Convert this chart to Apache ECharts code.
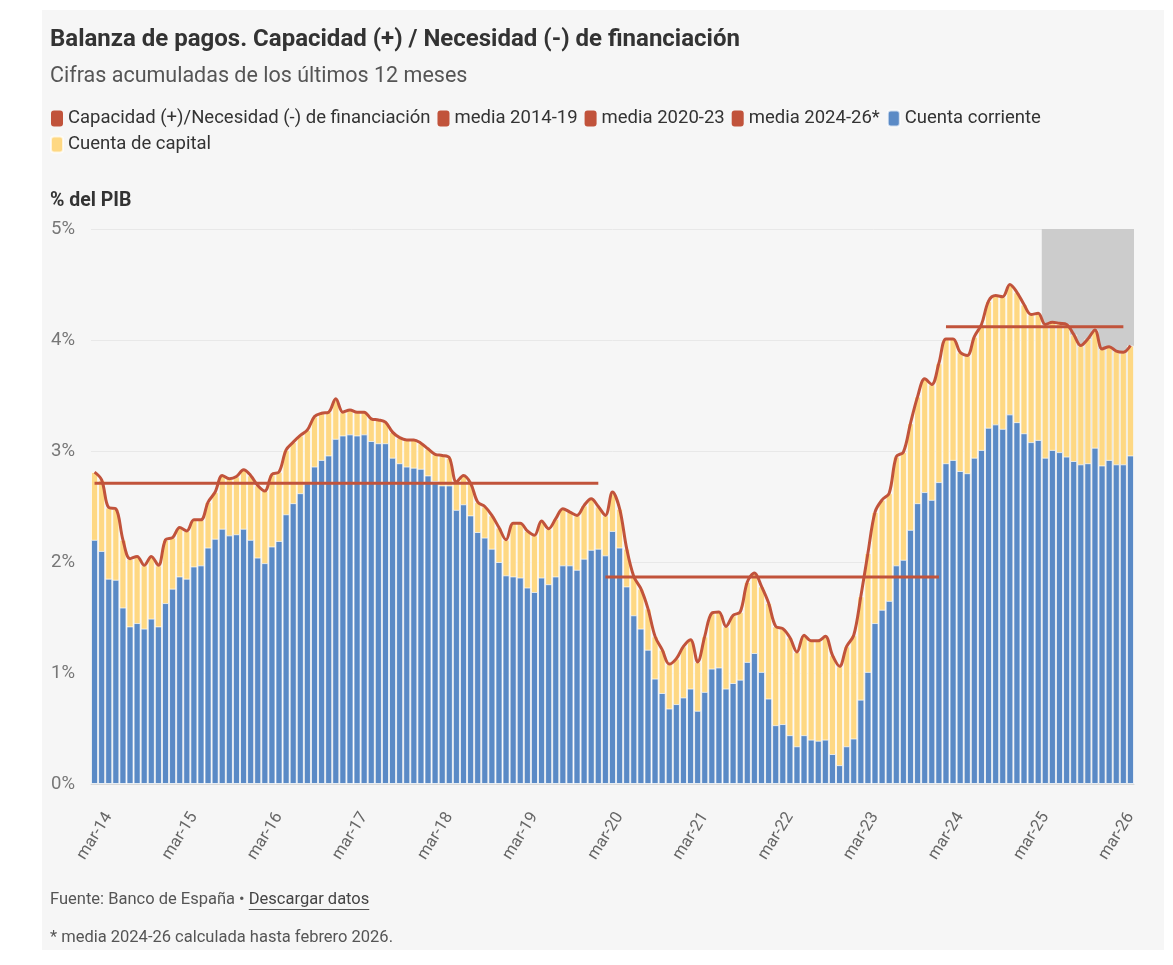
<!DOCTYPE html>
<html lang="es">
<head>
<meta charset="utf-8">
<title>Balanza de pagos</title>
<script src="https://cdn.jsdelivr.net/npm/echarts@6/dist/echarts.min.js"></script>
<style>
  html, body { margin: 0; padding: 0; background: #fff; }
  #chart { width: 1173px; height: 965px; }
</style>
</head>
<body>
<div id="chart"></div>
<script>
const FONT = 'Roboto, "Noto Sans", sans-serif'

// meses (ene-14 ... mar-26)
const meses = ['ene', 'feb', 'mar', 'abr', 'may', 'jun', 'jul', 'ago', 'sep', 'oct', 'nov', 'dic']
const categorias = []
for (let a = 14; a <= 26; a++) {
  for (let m = 0; m < 12; m++) {
    if (a === 26 && m > 2) break
    categorias.push(meses[m] + '-' + a)
  }
}

const etiquetas = ['mar-14', 'mar-15', 'mar-16', 'mar-17', 'mar-18', 'mar-19', 'mar-20',
  'mar-21', 'mar-22', 'mar-23', 'mar-24', 'mar-25', 'mar-26']

// Cuenta corriente, % del PIB
const corriente = [
  2.20, 2.10, 1.85, 1.84, 1.59, 1.42, 1.45, 1.40, 1.49, 1.42, 1.63, 1.76,
  1.87, 1.85, 1.96, 1.97, 2.13, 2.21, 2.30, 2.24, 2.25, 2.30, 2.20, 2.04,
  1.99, 2.14, 2.19, 2.43, 2.53, 2.62, 2.71, 2.86, 2.92, 2.96, 3.11, 3.14,
  3.15, 3.14, 3.15, 3.09, 3.07, 3.07, 2.94, 2.89, 2.86, 2.85, 2.84, 2.78,
  2.73, 2.69, 2.69, 2.47, 2.52, 2.42, 2.27, 2.22, 2.12, 2.00, 1.88, 1.87,
  1.86, 1.77, 1.73, 1.86, 1.80, 1.87, 1.97, 1.97, 1.93, 2.03, 2.11, 2.12,
  2.06, 2.28, 2.13, 1.78, 1.52, 1.40, 1.21, 0.95, 0.82, 0.68, 0.72, 0.78,
  0.86, 0.66, 0.83, 1.04, 1.05, 0.86, 0.91, 0.94, 1.10, 1.18, 1.01, 0.77,
  0.53, 0.54, 0.44, 0.34, 0.44, 0.40, 0.39, 0.40, 0.27, 0.17, 0.34, 0.41,
  0.76, 1.01, 1.45, 1.57, 1.65, 1.97, 2.02, 2.29, 2.53, 2.63, 2.56, 2.72,
  2.89, 2.92, 2.82, 2.80, 2.94, 3.01, 3.21, 3.24, 3.20, 3.33, 3.26, 3.16,
  3.08, 3.10, 2.94, 3.01, 2.99, 2.95, 2.91, 2.88, 2.89, 3.03, 2.87, 2.92,
  2.88, 2.88, 2.96
]

// Capacidad (+)/Necesidad (-) de financiación = corriente + capital, % del PIB
const capacidad = [
  2.81, 2.74, 2.49, 2.48, 2.20, 2.03, 2.05, 1.97, 2.05, 1.97, 2.20, 2.22,
  2.31, 2.28, 2.38, 2.38, 2.54, 2.63, 2.78, 2.75, 2.77, 2.83, 2.78, 2.69,
  2.64, 2.79, 2.81, 3.01, 3.08, 3.14, 3.19, 3.31, 3.34, 3.35, 3.47, 3.35,
  3.37, 3.35, 3.35, 3.29, 3.28, 3.26, 3.17, 3.12, 3.10, 3.10, 3.07, 3.02,
  2.97, 2.96, 2.94, 2.72, 2.78, 2.71, 2.54, 2.50, 2.42, 2.31, 2.20, 2.35,
  2.35, 2.28, 2.24, 2.37, 2.30, 2.39, 2.48, 2.45, 2.42, 2.51, 2.57, 2.50,
  2.42, 2.63, 2.48, 2.12, 1.87, 1.76, 1.58, 1.33, 1.21, 1.08, 1.13, 1.24,
  1.30, 1.10, 1.33, 1.54, 1.55, 1.42, 1.52, 1.55, 1.82, 1.90, 1.78, 1.63,
  1.42, 1.40, 1.32, 1.19, 1.34, 1.29, 1.29, 1.33, 1.16, 1.06, 1.24, 1.34,
  1.69, 2.08, 2.45, 2.56, 2.62, 2.95, 2.99, 3.25, 3.49, 3.65, 3.60, 3.79,
  4.01, 4.01, 3.89, 3.86, 4.03, 4.14, 4.35, 4.40, 4.39, 4.50, 4.43, 4.32,
  4.23, 4.24, 4.14, 4.16, 4.15, 4.14, 4.05, 3.95, 4.01, 4.09, 3.92, 3.94,
  3.90, 3.89, 3.95
]

// medias por periodo
const mediaNombres = ['media 2014-19', 'media 2020-23', 'media 2024-26*']
const mediaDesde = ['ene-14', 'ene-20', 'ene-24']
const mediaHasta = ['dic-19', 'dic-23', 'feb-26']
const mediaValores = [2.71, 1.865, 4.12]

const sombreadoDesde = 'mar-25'

const ROJO = '#c1533b'
const AZUL = '#5a8ac6'
const AMARILLO = '#fed883'

const chart = echarts.init(document.getElementById('chart'))

const mostrarEtiqueta = (idx, val) => etiquetas.includes(val)
const n = categorias.length

const mediaSeries = mediaNombres.map((nombre, k) => {
  const s = {
    name: nombre,
    type: 'line',
    xAxisIndex: 1,
    yAxisIndex: 0,
    data: [
      [categorias.indexOf(mediaDesde[k]), mediaValores[k]],
      [categorias.indexOf(mediaHasta[k]), mediaValores[k]]
    ],
    symbol: 'none',
    color: ROJO,
    lineStyle: { width: 3, color: ROJO },
    z: 4,
    silent: true
  }
  if (k === 2) {
    s.markArea = {
      silent: true,
      z: 1,
      itemStyle: { color: '#cccccc' },
      data: [[{ xAxis: categorias.indexOf(sombreadoDesde) - 0.5 }, { xAxis: n - 0.5 }]]
    }
  }
  return s
})

// medir ancho del texto de la fuente para subrayar el enlace
const FOOT_FONT = '16.5px Roboto'
const ctx = document.createElement('canvas').getContext('2d')
ctx.font = FOOT_FONT
const fuenteTxt = 'Fuente: Banco de España • '
const enlaceTxt = 'Descargar datos'
const w1 = ctx.measureText(fuenteTxt).width
const w2 = ctx.measureText(enlaceTxt).width

const option = {
  backgroundColor: '#ffffff',
  textStyle: { fontFamily: FONT },
  animation: false,
  title: [
    {
      text: 'Balanza de pagos. Capacidad (+) / Necesidad (-) de financiación',
      left: 50, top: 28, padding: 0,
      textStyle: { fontSize: 24, fontWeight: 'bold', color: '#333', fontFamily: FONT }
    },
    {
      text: 'Cifras acumuladas de los últimos 12 meses',
      left: 50, top: 66, padding: 0,
      textStyle: { fontSize: 21.5, fontWeight: 'normal', color: '#555', fontFamily: FONT }
    },
    {
      text: '% del PIB',
      left: 50, top: 191, padding: 0,
      textStyle: { fontSize: 19.5, fontWeight: 'bold', color: '#333', fontFamily: FONT }
    }
  ],
  legend: {
    left: 50,
    top: 109,
    width: 1030,
    padding: 0,
    itemWidth: 12,
    itemHeight: 16,
    itemGap: 7,
    icon: 'roundRect',
    textStyle: { fontSize: 18.5, color: '#333', fontFamily: FONT },
    data: ['Capacidad (+)/Necesidad (-) de financiación', ...mediaNombres, 'Cuenta corriente', 'Cuenta de capital']
  },
  graphic: [
    {
      type: 'rect', z: -10, silent: true,
      shape: { x: 42, y: 10, width: 1122, height: 940 },
      style: { fill: '#f6f6f6' }
    },
    {
      type: 'text', x: 50, y: 900, silent: true,
      style: { text: fuenteTxt, font: FOOT_FONT, fill: '#555', verticalAlign: 'middle' }
    },
    {
      type: 'text', x: 50 + w1, y: 900, silent: true,
      style: { text: enlaceTxt, font: FOOT_FONT, fill: '#444', verticalAlign: 'middle' }
    },
    {
      type: 'line', silent: true,
      shape: { x1: 50 + w1, y1: 909.5, x2: 50 + w1 + w2, y2: 909.5 },
      style: { stroke: '#555', lineWidth: 1 }
    },
    {
      type: 'text', x: 50, y: 938, silent: true,
      style: { text: '* media 2024-26 calculada hasta febrero 2026.', font: FOOT_FONT, fill: '#555', verticalAlign: 'middle' }
    }
  ],
  grid: { left: 91, right: 39, top: 229, bottom: 181 },
  xAxis: [
    {
      type: 'category',
      data: categorias,
      axisLine: { lineStyle: { color: '#d9d9d9' } },
      axisTick: { alignWithLabel: true, interval: mostrarEtiqueta, length: 6, lineStyle: { color: '#cccccc' } },
      axisLabel: { interval: mostrarEtiqueta, rotate: 58, margin: 30, color: '#666', fontSize: 16.5, fontFamily: FONT },
      splitLine: { show: false }
    },
    {
      type: 'value',
      min: -0.5,
      max: n - 0.5,
      show: false
    }
  ],
  yAxis: {
    type: 'value',
    min: 0,
    max: 5,
    interval: 1,
    axisLabel: { formatter: '{value}%', color: '#777', fontSize: 18.5, margin: 16, fontFamily: FONT },
    axisLine: { show: false },
    axisTick: { show: false },
    splitLine: { lineStyle: { color: '#e8e8e8' } }
  },
  series: [
    {
      name: 'Cuenta de capital',
      type: 'bar',
      data: capacidad,
      barCategoryGap: '0%',
      barGap: '-100%',
      itemStyle: { color: AMARILLO, borderColor: 'rgba(255,255,255,0.7)', borderWidth: 1 },
      z: 2
    },
    {
      name: 'Cuenta corriente',
      type: 'bar',
      data: corriente,
      barCategoryGap: '0%',
      barGap: '-100%',
      itemStyle: { color: AZUL, borderColor: 'rgba(255,255,255,0.7)', borderWidth: 1 },
      z: 2
    },
    {
      name: 'Capacidad (+)/Necesidad (-) de financiación',
      type: 'line',
      data: capacidad,
      smooth: 0.35,
      symbol: 'none',
      color: ROJO,
      lineStyle: { width: 3, color: ROJO },
      z: 5
    },
    ...mediaSeries
  ]
}

chart.setOption(option)
</script>
</body>
</html>
